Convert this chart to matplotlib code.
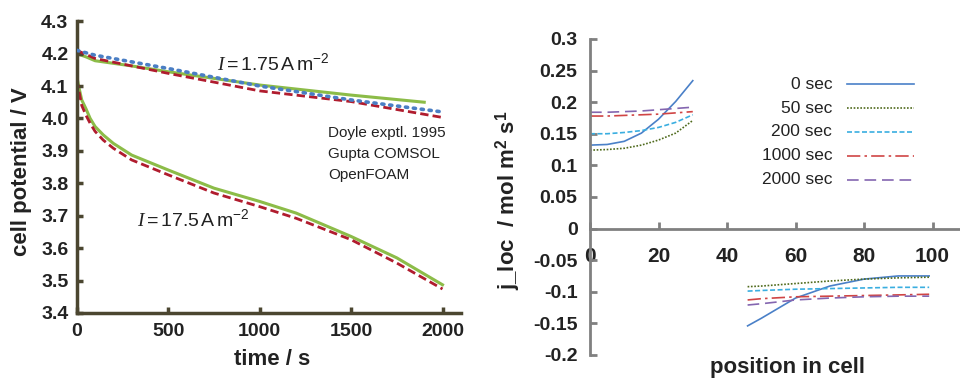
import numpy as np
import matplotlib
matplotlib.use("Agg")
import matplotlib.pyplot as plt

plt.rcParams["font.family"] = ["Liberation Sans", "DejaVu Sans"]
plt.rcParams["mathtext.fontset"] = "custom"
plt.rcParams["mathtext.rm"] = "Liberation Sans"
plt.rcParams["mathtext.it"] = "Liberation Serif:italic"
plt.rcParams["mathtext.bf"] = "Liberation Sans:bold"

# ----------------------------------------------------------------------
# left panel: cell potential vs time
t_low = [0, 100, 500, 1000, 1500, 2000]
v_low_doyle = [4.21, 4.195, 4.154, 4.100, 4.057, 4.020]
v_low_gupta = [4.21, 4.185, 4.139, 4.085, 4.052, 4.003]
t_low_foam = [0, 50, 100, 300, 500, 1000, 1500, 1900]
v_low_foam = [4.20, 4.19, 4.178, 4.162, 4.144, 4.103, 4.072, 4.050]

t_high = [0, 10, 27, 50, 73, 100, 145, 200, 300, 500, 750, 1000, 1200,
          1500, 1750, 2000]
v_high_foam = [4.13, 4.10, 4.057, 4.03, 4.00, 3.975, 3.949, 3.923, 3.887,
               3.841, 3.785, 3.744, 3.708, 3.636, 3.570, 3.487]
v_high_gupta = [4.12, 4.09, 4.04, 4.01, 3.985, 3.960, 3.933, 3.908, 3.872,
                3.826, 3.770, 3.728, 3.692, 3.626, 3.554, 3.474]

# right panel: local current density vs position
pos_left = [0, 5, 10, 15, 20, 25, 30]
pos_right = [46, 50, 60, 70, 80, 90, 99]
j_left = {
    "0 sec": [0.132, 0.133, 0.138, 0.151, 0.173, 0.201, 0.234],
    "50 sec": [0.124, 0.125, 0.127, 0.132, 0.140, 0.151, 0.171],
    "200 sec": [0.150, 0.150, 0.152, 0.155, 0.160, 0.168, 0.180],
    "1000 sec": [0.178, 0.178, 0.179, 0.180, 0.181, 0.183, 0.185],
    "2000 sec": [0.184, 0.184, 0.185, 0.186, 0.188, 0.190, 0.192],
}
j_right = {
    "0 sec": [-0.154, -0.142, -0.110, -0.091, -0.080, -0.075, -0.075],
    "50 sec": [-0.092, -0.091, -0.087, -0.083, -0.080, -0.078, -0.077],
    "200 sec": [-0.099, -0.098, -0.096, -0.095, -0.094, -0.093, -0.093],
    "1000 sec": [-0.113, -0.111, -0.108, -0.107, -0.106, -0.105, -0.104],
    "2000 sec": [-0.121, -0.119, -0.113, -0.110, -0.108, -0.107, -0.107],
}
styles = {
    "0 sec": dict(color="#4a80c8", ls="-"),
    "50 sec": dict(color="#4f6a1c", ls=(0, (1, 1))),
    "200 sec": dict(color="#3aaee0", ls=(0, (3, 1.5))),
    "1000 sec": dict(color="#d04545", ls=(0, (8, 2.5, 1.5, 2.5))),
    "2000 sec": dict(color="#8466b0", ls=(0, (7, 3.5))),
}

# ----------------------------------------------------------------------
fig = plt.figure(figsize=(9.6, 3.78), dpi=100)

# --- left
spc = "#4b4630"
ax = fig.add_axes([0.080, 0.172, 0.400, 0.772])
ax.plot(t_low, v_low_doyle, color="#4a7ec4", lw=2.6, ls=(0, (0.6, 1.6)),
        dash_capstyle="round", zorder=3)
ax.plot(t_low, v_low_gupta, color="#b01c2e", lw=2.0, ls=(0, (3, 1.5)), zorder=2)
ax.plot(t_low_foam, v_low_foam, color="#8cbc48", lw=2.2, zorder=1)
ax.plot(t_high, v_high_gupta, color="#b01c2e", lw=2.0, ls=(0, (3, 1.5)), zorder=2)
ax.plot(t_high, v_high_foam, color="#8cbc48", lw=2.2, zorder=1)

ax.set_xlim(0, 2100)
ax.set_ylim(3.4, 4.3)
ax.set_xticks([0, 500, 1000, 1500, 2000])
ax.set_yticks(np.arange(3.4, 4.31, 0.1))
ax.set_yticklabels(["{:.1f}".format(v) for v in np.arange(3.4, 4.31, 0.1)])
for s in ["top", "right"]:
    ax.spines[s].set_visible(False)
for s in ["left", "bottom"]:
    ax.spines[s].set_color(spc)
    ax.spines[s].set_linewidth(2.5)
ax.tick_params(direction="in", length=4, width=2.5, color=spc, labelsize=14,
               labelcolor="#222222")
ax.tick_params(axis="y", pad=6)
ax.tick_params(axis="x", pad=7)
for lab in ax.get_xticklabels() + ax.get_yticklabels():
    lab.set_fontweight("bold")
fig.text(0.283, 0.048, "time / s", ha="center", va="center",
         fontsize=16, fontweight="bold", color="#222222")
fig.text(0.022, 0.545, "cell potential / V", ha="center", va="center",
         rotation=90, fontsize=16, fontweight="bold", color="#222222")

ax.text(765, 4.17, r"$I = \mathrm{1.75\,A\,m^{-2}}$", fontsize=14,
        color="#222222", va="center")
ax.text(328, 3.69, r"$I = \mathrm{17.5\,A\,m^{-2}}$", fontsize=14,
        color="#222222", va="center")
for k, s in enumerate(["Doyle exptl. 1995", "Gupta COMSOL", "OpenFOAM"]):
    ax.text(1375, 3.955 - 0.065 * k, s, fontsize=11, color="#222222", va="center")

# --- right
gc = "#808080"
ax2 = fig.add_axes([0.6146, 0.061, 0.3854, 0.836])
for lab in styles:
    st = styles[lab]
    ax2.plot(pos_left, j_left[lab], color=st["color"], ls=st["ls"], lw=1.2)
    ax2.plot(pos_right, j_right[lab], color=st["color"], ls=st["ls"], lw=1.2)
ax2.set_xlim(0, 108)
ax2.set_ylim(-0.2, 0.3)
ax2.set_xticks([0, 20, 40, 60, 80, 100])
ax2.set_yticks([-0.2, -0.15, -0.1, -0.05, 0, 0.05, 0.1, 0.15, 0.2, 0.25, 0.3])
ax2.set_yticklabels(["-0.2", "-0.15", "-0.1", "-0.05", "0", "0.05", "0.1",
                     "0.15", "0.2", "0.25", "0.3"])
for s in ["top", "right"]:
    ax2.spines[s].set_visible(False)
ax2.spines["bottom"].set_position(("data", 0))
for s in ["left", "bottom"]:
    ax2.spines[s].set_color(gc)
    ax2.spines[s].set_linewidth(2)
ax2.tick_params(direction="in", length=5, width=2, color=gc, labelsize=14,
                labelcolor="#222222")
ax2.tick_params(axis="x", labelsize=15)
ax2.tick_params(axis="y", pad=9)
ax2.tick_params(axis="x", pad=13)
for lab in ax2.get_xticklabels() + ax2.get_yticklabels():
    lab.set_fontweight("bold")
fig.text(0.820, 0.027, "position in cell", ha="center", va="center",
         fontsize=16, fontweight="bold", color="#222222")
fig.text(0.529, 0.47, r"j_loc  / mol m$^\mathbf{2}$ s$^\mathbf{1}$", ha="center",
         va="center", rotation=90, fontsize=16, fontweight="bold", color="#222222")

# legend: label right-aligned, handle on the right
for k, lab in enumerate(styles):
    yy = 0.857 - 0.0756 * k
    ax2.text(0.655, yy, lab, transform=ax2.transAxes, ha="right", va="center",
             fontsize=12.5, color="#222222")
    ax2.plot([0.694, 0.876], [yy, yy], transform=ax2.transAxes,
             color=styles[lab]["color"], ls=styles[lab]["ls"], lw=1.2)

fig.savefig("out.png", dpi=100)
